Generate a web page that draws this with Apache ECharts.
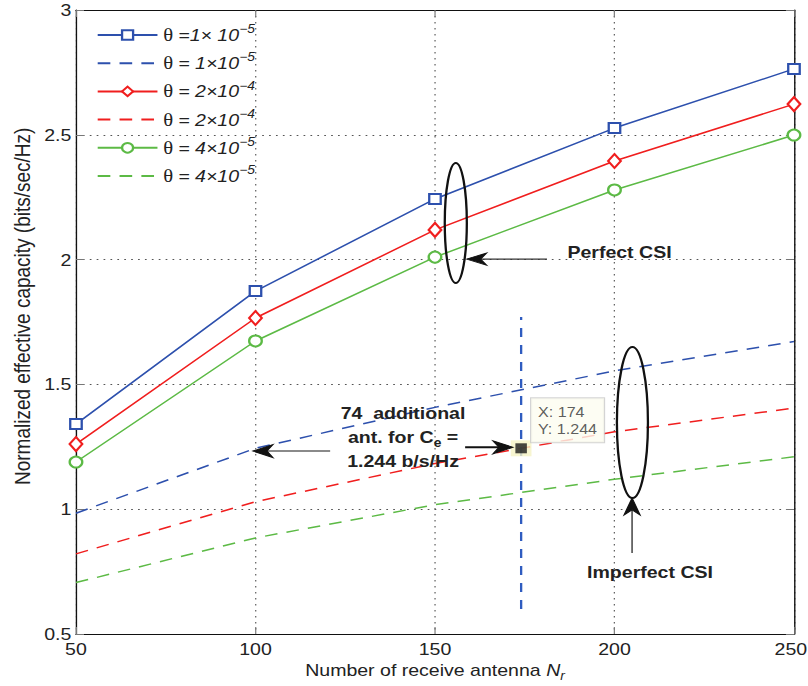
<!DOCTYPE html>
<html>
<head>
<meta charset="utf-8">
<script src="https://cdn.jsdelivr.net/npm/echarts@6/dist/echarts.min.js"></script>
<style>
  html, body { margin: 0; padding: 0; background: #fff; overflow: hidden; }
  #wrap { width: 808px; height: 686px; overflow: hidden; }
  /* the figure is drawn 703px wide and widened to 808px, like the exported plot */
  #chart { width: 703px; height: 686px; transform: scaleX(1.14936); transform-origin: 0 0; }
</style>
</head>
<body>
<div id="wrap"><div id="chart"></div></div>
<script>
// Number of receive antennas N_r
const antennas = [50, 100, 150, 200, 250];

// Normalized effective capacity with perfect CSI (solid lines)
const perfectTheta1e5 = [1.341, 1.874, 2.243, 2.527, 2.764];
const perfectTheta2e4 = [1.261, 1.766, 2.119, 2.395, 2.623];
const perfectTheta4e5 = [1.189, 1.674, 2.010, 2.279, 2.499];

// Normalized effective capacity with imperfect CSI (dashed lines)
const imperfectTheta1e5 = [0.984, 1.244, 1.408, 1.554, 1.672];
const imperfectTheta2e4 = [0.821, 1.030, 1.183, 1.310, 1.405];
const imperfectTheta4e5 = [0.706, 0.885, 1.018, 1.120, 1.210];

// Legend text: mantissa part and exponent of theta
const legendBase = ['=1\u00d7 10', '= 1\u00d710', '= 2\u00d710', '= 2\u00d710', '= 4\u00d710', '= 4\u00d710'];
const legendExp = ['\u22125', '\u22125', '\u22124', '\u22124', '\u22125', '\u22125'];

// Axis ticks
const xTicks = [50, 100, 150, 200, 250];
const yTicks = [0.5, 1, 1.5, 2, 2.5, 3];

// Data cursor on the imperfect-CSI curve and its vertical marker line
const datatipX = 174;
const datatipY = 1.244;
const referenceAntennas = 100;
const markerLineY = [0.6, 1.77];

const BLUE = '#2d50ad';
const RED = '#f01e1e';
const GREEN = '#5cba45';
const FONT = 'Liberation Sans, Arial, Helvetica, sans-serif';

const seriesIds = ['p1e5', 'i1e5', 'p2e4', 'i2e4', 'p4e5', 'i4e5'];
const pairs = (ys) => antennas.map((n, i) => [n, ys[i]]);

function solid(id, ys, color, symbol, size) {
  return {
    name: id, type: 'line', data: pairs(ys),
    symbol: symbol, symbolSize: size, showSymbol: true,
    lineStyle: { color: color, width: 1.5 },
    itemStyle: { color: color, borderColor: color, borderWidth: 1.5 },
    emphasis: { disabled: true }, z: 3
  };
}
function dashed(id, ys, color) {
  return {
    name: id, type: 'line', data: pairs(ys), symbol: 'none',
    lineStyle: { color: color, width: 1.5, type: [11, 8] },
    itemStyle: { color: color },
    emphasis: { disabled: true }, z: 2
  };
}

const chart = echarts.init(document.getElementById('chart'), null, { renderer: 'svg' });

const boxAxisLine = { show: true, onZero: false, lineStyle: { color: '#111', width: 1.2 } };
const inTick = { show: true, inside: true, length: 7, lineStyle: { color: '#777', width: 1 } };
const dotted = { show: true, lineStyle: { color: '#555', width: 1, type: [1.5, 4.5] } };
const xMax = xTicks[xTicks.length - 1];

chart.setOption({
  animation: false,
  backgroundColor: '#fff',
  grid: { left: 66.1, right: 12.2, top: 10, bottom: 52, containLabel: false, outerBoundsMode: 'none' },
  legend: {
    show: true, orient: 'vertical', left: 79, top: 18, padding: 5,
    itemWidth: 52, itemHeight: 12, itemGap: 7.2, selectedMode: false,
    data: seriesIds.map((id, k) => (k % 2 === 1 ? { name: id, itemStyle: { opacity: 0 } } : { name: id })),
    formatter: function (name) {
      const k = seriesIds.indexOf(name);
      return '{g|\u03b8 }{i|' + legendBase[k] + '}{s|' + legendExp[k] + '}';
    },
    textStyle: {
      color: '#222', fontFamily: FONT,
      rich: {
        g: { fontSize: 18, lineHeight: 24, fontFamily: 'Liberation Serif, serif', color: '#222' },
        i: { fontSize: 17, lineHeight: 24, fontStyle: 'italic', fontFamily: FONT, color: '#222' },
        s: { fontSize: 12, lineHeight: 12, fontStyle: 'italic', verticalAlign: 'top', fontFamily: FONT, color: '#222' }
      }
    }
  },
  xAxis: [{
    type: 'value', position: 'bottom', min: xTicks[0], max: xMax, interval: 50,
    axisLine: boxAxisLine, axisTick: inTick, splitLine: dotted,
    axisLabel: {
      fontSize: 17, color: '#222', margin: 6, fontFamily: FONT,
      formatter: function (v) { return v === xMax ? '{e|' + v + '}' : String(v); },
      rich: { e: { fontSize: 17, color: '#222', fontFamily: FONT, padding: [0, 5.5, 0, 0] } }
    },
    name: '{n|Number of receive antenna }{v|N}{b|r}',
    nameLocation: 'middle', nameGap: 15,
    nameTextStyle: {
      rich: {
        n: { fontSize: 17, lineHeight: 22, color: '#222', fontFamily: FONT },
        v: { fontSize: 17, lineHeight: 22, fontStyle: 'italic', color: '#222', fontFamily: FONT },
        b: { fontSize: 12, lineHeight: 10, fontStyle: 'italic', verticalAlign: 'bottom', color: '#222', fontFamily: FONT }
      }
    }
  }, {
    type: 'value', position: 'top', min: xTicks[0], max: xMax, interval: 50,
    axisLine: boxAxisLine, axisTick: inTick, axisLabel: { show: false }, splitLine: { show: false }
  }],
  yAxis: [{
    type: 'value', position: 'left', min: yTicks[0], max: yTicks[yTicks.length - 1], interval: 0.5,
    axisLine: boxAxisLine, axisTick: inTick, splitLine: dotted,
    axisLabel: { fontSize: 17, color: '#222', margin: 4, fontFamily: FONT }
  }, {
    type: 'value', position: 'right', min: yTicks[0], max: yTicks[yTicks.length - 1], interval: 0.5,
    axisLine: boxAxisLine, axisTick: inTick, axisLabel: { show: false }, splitLine: { show: false }
  }],
  series: [
    solid(seriesIds[0], perfectTheta1e5, BLUE, 'emptyRect', 10),
    dashed(seriesIds[1], imperfectTheta1e5, BLUE),
    solid(seriesIds[2], perfectTheta2e4, RED, 'emptyDiamond', [11, 14]),
    dashed(seriesIds[3], imperfectTheta2e4, RED),
    solid(seriesIds[4], perfectTheta4e5, GREEN, 'emptyCircle', 11),
    dashed(seriesIds[5], imperfectTheta4e5, GREEN),
    {
      name: 'marker', type: 'line', symbol: 'none',
      data: [[datatipX, markerLineY[0]], [datatipX, markerLineY[1]]],
      lineStyle: { color: '#2f5cc0', width: 2, type: [9, 8] },
      emphasis: { disabled: true }, z: 4
    },
    {
      name: 'tip-halo', type: 'scatter', symbol: 'rect', symbolSize: [18, 16],
      data: [[datatipX, datatipY]], itemStyle: { color: '#f5f2c4' },
      silent: true, z: 5
    },
    {
      name: 'tip', type: 'scatter', symbol: 'rect', symbolSize: 10,
      data: [[datatipX, datatipY]], itemStyle: { color: '#1a1a1a' },
      silent: true, z: 6,
      label: {
        show: true, position: [13.7, -45], align: 'left', verticalAlign: 'top',
        formatter: function (p) { return 'X: ' + p.value[0] + '\nY: ' + p.value[1].toFixed(3); },
        fontSize: 14, lineHeight: 17, color: '#333', fontFamily: FONT,
        backgroundColor: '#fdfdf0', borderColor: '#c9c9c9', borderWidth: 1, padding: [5, 6]
      }
    }
  ]
});

// Annotations placed in data space
function px(n, v) { return chart.convertToPixel({ gridIndex: 0 }, [n, v]); }

function arrowHead(tip, ux, uy, len, half, color) {
  const bx = tip[0] - ux * len, by = tip[1] - uy * len;
  const nx = tip[0] - ux * len * 0.7, ny = tip[1] - uy * len * 0.7;
  const qx = -uy, qy = ux;
  return {
    type: 'polygon', z: 20,
    shape: { points: [tip, [bx + qx * half, by + qy * half], [nx, ny], [bx - qx * half, by - qy * half]] },
    style: { fill: color, stroke: color, lineWidth: 1 }
  };
}
function seg(a, b, color, w) {
  return { type: 'line', z: 19, shape: { x1: a[0], y1: a[1], x2: b[0], y2: b[1] }, style: { stroke: color, lineWidth: w } };
}
function ellipse(c, rx, ry) {
  return { type: 'ellipse', z: 19, shape: { cx: c[0], cy: c[1], rx: rx, ry: ry }, style: { fill: 'none', stroke: '#111', lineWidth: 2 } };
}
function label(pt, rich, text, align) {
  return {
    type: 'text', z: 21,
    style: { x: pt[0], y: pt[1], text: text, align: align || 'center', verticalAlign: 'middle', rich: rich, fill: '#222' }
  };
}

const boldRich = {
  b: { fontSize: 17, fontWeight: 'bold', lineHeight: 24, fontFamily: FONT, color: '#222' },
  s: { fontSize: 12, fontWeight: 'bold', lineHeight: 12, verticalAlign: 'bottom', fontFamily: FONT, color: '#222' }
};

// Perfect CSI group
const pEll = px(155.8, 2.147);
const pTip = px(158.8, 2.002), pTail = px(181.2, 2.002);
const pText = px(201.4, 2.03);
// Imperfect CSI group
const iEll = px(205.0, 1.347);
const iTip = px(204.9, 1.045), iTail = px(204.9, 0.825);
const iText = px(209.9, 0.748);
// Extra-antenna note
const lTip = px(99.3, 1.233), lTail = px(120.8, 1.233);
const nText = px(141.1, 1.289);
const rTail = px(158.4, 1.248), rTip = px(171.7, 1.248);

chart.setOption({
  graphic: [
    // Y axis title, reading upwards from the lower part of the axis
    {
      type: 'text', z: 21, x: 19.1, y: 485, rotation: Math.PI / 2,
      style: {
        text: 'Normalized effective capacity (bits/sec/Hz)', fontSize: 19, fontFamily: FONT,
        fill: '#222', align: 'left', verticalAlign: 'middle'
      }
    },

    ellipse(pEll, 9.6, 60),
    seg(pTail, [pTip[0] + 12, pTip[1]], '#333', 1.2),
    arrowHead(pTip, -1, 0, 17.4, 6, '#111'),
    label(pText, boldRich, '{b|Perfect CSI}'),

    ellipse(iEll, 13.5, 75.5),
    seg(iTail, [iTip[0], iTip[1] + 12], '#333', 1.2),
    arrowHead(iTip, 0, -1, 17, 7, '#111'),
    label(iText, boldRich, '{b|Imperfect CSI}'),

    seg(lTail, [lTip[0] + 12, lTip[1]], '#8a8a8a', 2),
    arrowHead(lTip, -1, 0, 17.4, 6.5, '#111'),

    label(nText, boldRich,
      '{b|' + (datatipX - referenceAntennas) + '  additional}\n{b|ant. for C}{s|e}{b| =}\n{b|' +
      datatipY.toFixed(3) + ' b/s/Hz}'),
    seg(rTail, [rTip[0] - 12, rTip[1]], '#111', 2),
    arrowHead(rTip, 1, 0, 17.4, 6.5, '#111')
  ]
});
</script>
</body>
</html>
